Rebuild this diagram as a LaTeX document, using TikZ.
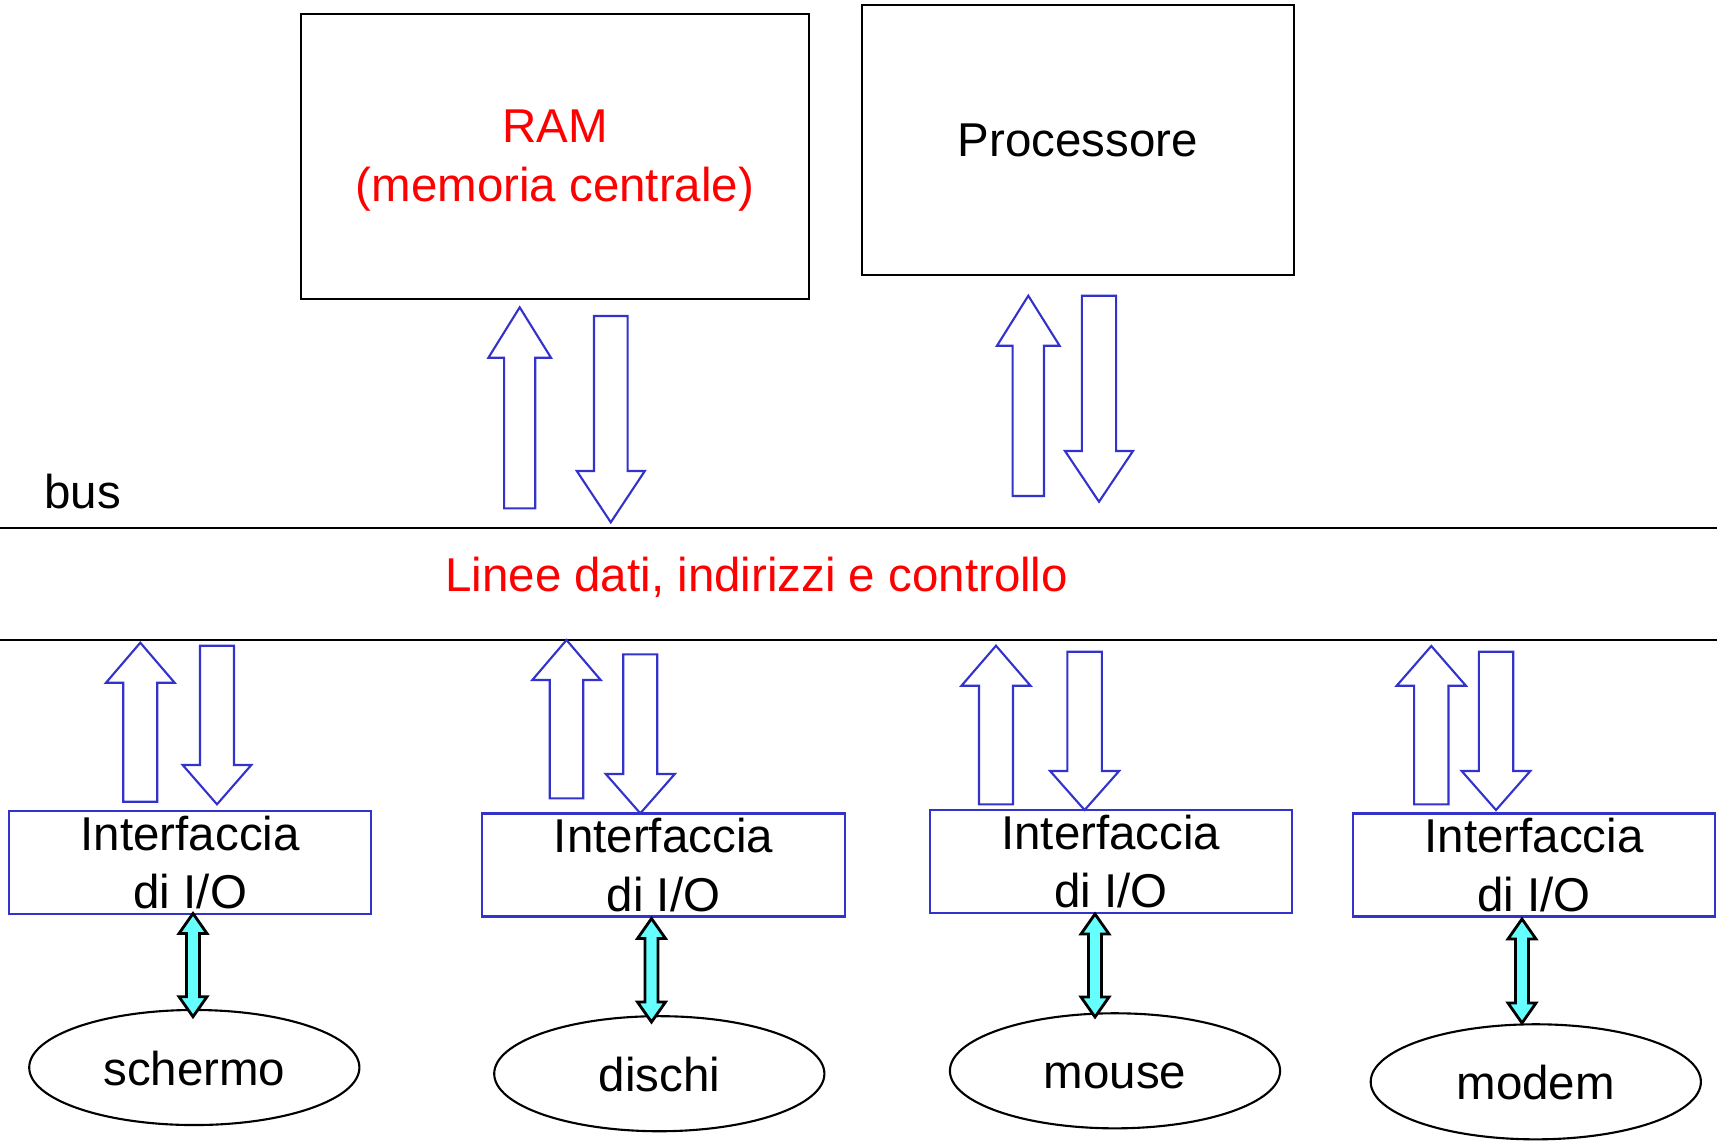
\documentclass[tikz,border=0pt]{standalone}
\usepackage{fontspec}
\setmainfont{Liberation Sans}
\usetikzlibrary{shapes.geometric}
\definecolor{arrblue}{RGB}{51,51,204}
\definecolor{cyanfill}{RGB}{102,255,255}
\newcommand{\blkarrow}[6]{%
  \draw[blockarrow] ({#1-#5},#2) -- ({#1-#5},#3) -- ({#1-#6},#3) -- (#1,#4) -- ({#1+#6},#3) -- ({#1+#5},#3) -- ({#1+#5},#2) -- cycle;}
\newcommand{\dblarrow}[3]{%
  \draw[cyanarrow] (#1,#2) -- ({#1+14},{#2+20}) -- ({#1+6.5},{#2+20}) -- ({#1+6.5},{#3-20}) -- ({#1+14},{#3-20}) -- (#1,#3) -- ({#1-14},{#3-20}) -- ({#1-6.5},{#3-20}) -- ({#1-6.5},{#2+20}) -- ({#1-14},{#2+20}) -- cycle;}
\tikzset{
  txt/.style={font=\fontsize{13.5}{16.5}\selectfont, inner sep=0pt},
  bigbox/.style={draw=black, line width=0.6pt, inner sep=0pt},
  iobox/.style={draw=arrblue, line width=0.6pt, inner sep=0pt, align=center, txt,
    minimum width=3.62cm, minimum height=1.03cm},
  dev/.style={ellipse, draw=black, line width=0.6pt, inner sep=0pt, txt,
    minimum width=3.30cm, minimum height=1.15cm, text height=10.3pt, text depth=0pt},
  blockarrow/.style={draw=arrblue, line width=0.6pt, fill=white, line join=miter},
  cyanarrow/.style={draw=black, line width=0.8pt, fill=cyanfill, line join=miter},
  busline/.style={draw=black, line width=0.6pt}
}
\begin{document}
\begin{tikzpicture}[x=0.01cm, y=-0.01cm]
\useasboundingbox[fill=white] (0,0) rectangle (1717,1144);

% main boxes
\node[bigbox, minimum width=5.08cm, minimum height=2.85cm] (ram) at (555,156.5) {};
\node[txt, align=center, text=red, font=\fontsize{13.5}{16.8}\selectfont] (ramtext) at (555,161) {RAM\\(memoria centrale)};
\node[bigbox, txt, minimum width=4.32cm, minimum height=2.70cm] (cpu) at (1078,140) {Processore};

% bus
\coordinate (b1w) at (0,528);
\coordinate (b1e) at (1717,528);
\coordinate (b2w) at (0,640);
\coordinate (b2e) at (1717,640);
\draw[busline] (b1w) -- (b1e);
\draw[busline] (b2w) -- (b2e);
\node[txt, anchor=base west] (bus) at (43.8,508) {bus};
\node[txt, anchor=base west, text=red] (linee) at (444.6,591) {Linee dati, indirizzi e controllo};

% block arrows RAM / CPU
\blkarrow{519.7}{508.3}{357.7}{307.3}{15.6}{31.3}
\blkarrow{610.8}{316}{471}{522.3}{16.8}{34}
\blkarrow{1028.3}{496}{345.7}{295.7}{15.7}{31.3}
\blkarrow{1099}{295.7}{451}{501.7}{17.1}{34}

% block arrows I/O
\blkarrow{140.3}{801.7}{682.7}{642.7}{17}{34.3}
\blkarrow{217}{645.7}{765}{804.3}{17}{34.3}
\blkarrow{566.5}{798.3}{680}{640}{16.8}{34.2}
\blkarrow{640.3}{654.3}{774}{813.3}{17}{34.5}
\blkarrow{996}{804.3}{685.7}{645.7}{17}{34.5}
\blkarrow{1084.6}{651.7}{771}{810}{17.3}{34.5}
\blkarrow{1431.3}{804.3}{685.7}{646}{17.2}{34.6}
\blkarrow{1496}{651.7}{771}{810}{17.2}{34.3}

% I/O interfaces
\node[iobox] (io1) at (190.3,862.2) {Interfaccia\\di I/O};
\node[iobox] (io2) at (663.5,865) {Interfaccia\\di I/O};
\node[iobox] (io3) at (1110.8,861.5) {Interfaccia\\di I/O};
\node[iobox] (io4) at (1534,865) {Interfaccia\\di I/O};

% devices
\node[dev] (schermo) at (194.3,1067.5) {schermo};
\node[dev] (dischi) at (659.3,1073.7) {dischi};
\node[dev] (mouse) at (1115,1070.8) {mouse};
\node[dev] (modem) at (1535.8,1081.8) {modem};

% cyan double arrows
\dblarrow{193}{913.5}{1016.7}
\dblarrow{651.5}{918.5}{1022}
\dblarrow{1095}{914}{1017}
\dblarrow{1522}{919}{1023}
\end{tikzpicture}
\end{document}
